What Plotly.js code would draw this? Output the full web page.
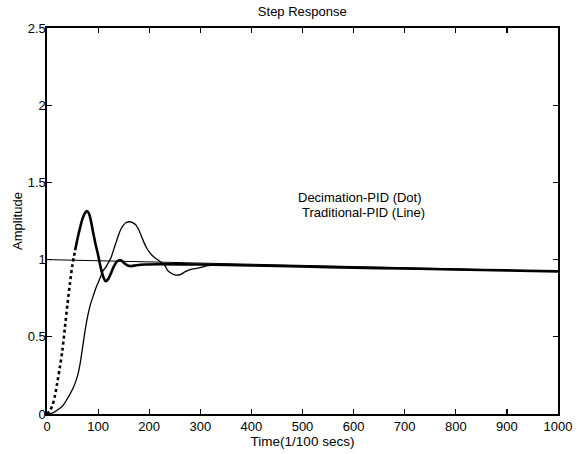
<!DOCTYPE html>
<html>
<head>
<meta charset="utf-8">
<script src="https://cdn.plot.ly/plotly-3.0.1.min.js"></script>
<style>html,body{margin:0;padding:0;background:#fff;}#chart{width:587px;height:454px;}</style>
</head>
<body>
<div id="chart"></div>
<script>
// Decimation-PID (Dot) step response
var decT = [0, 5, 10, 15, 20, 25, 30, 35, 40, 45, 50, 55, 60, 65, 70, 75, 78, 82, 86, 90, 95, 100, 105, 110, 115, 120, 125, 130, 135, 140, 145, 150, 158, 165, 175, 190, 220, 300, 400, 500, 600, 700, 800, 900, 1000];
var decY = [0, 0.02, 0.05, 0.11, 0.2, 0.3, 0.41, 0.56, 0.71, 0.85, 0.97, 1.06, 1.14, 1.21, 1.27, 1.305, 1.315, 1.3, 1.25, 1.18, 1.1, 1.03, 0.95, 0.89, 0.86, 0.875, 0.91, 0.95, 0.98, 0.995, 0.995, 0.98, 0.962, 0.958, 0.963, 0.968, 0.97, 0.968, 0.962, 0.955, 0.948, 0.942, 0.936, 0.93, 0.924];
var decDotEnd = 55; // dotted look up to this time

// Traditional-PID (Line) step response
var tradT = [0, 10, 20, 30, 40, 50, 55, 60, 65, 70, 75, 80, 85, 90, 95, 100, 105, 110, 115, 120, 125, 130, 135, 140, 145, 150, 155, 162, 170, 175, 180, 185, 190, 195, 200, 208, 220, 230, 236, 244, 252, 262, 270, 280, 295, 320, 400, 500, 600, 700, 800, 900, 1000];
var tradY = [0, 0.005, 0.025, 0.05, 0.1, 0.16, 0.2, 0.25, 0.33, 0.44, 0.55, 0.64, 0.71, 0.76, 0.81, 0.85, 0.89, 0.93, 0.95, 0.98, 1.01, 1.06, 1.11, 1.16, 1.2, 1.225, 1.24, 1.245, 1.235, 1.22, 1.19, 1.15, 1.11, 1.075, 1.05, 1.02, 0.99, 0.965, 0.93, 0.91, 0.9, 0.905, 0.92, 0.935, 0.945, 0.962, 0.962, 0.955, 0.948, 0.942, 0.936, 0.93, 0.924];

// Reference (final value) line
var refT = [0, 1000];
var refY = [1.0, 0.925];

var xTicks = [0, 100, 200, 300, 400, 500, 600, 700, 800, 900, 1000];
var yTicks = [0, 0.5, 1, 1.5, 2, 2.5];
var yTickText = ['0', '0.5', '1', '1.5', '2', '2.5'];

var labelDec = 'Decimation-PID (Dot)';
var labelTrad = 'Traditional-PID (Line)';

// split decimation series into dotted rise and solid remainder
var dotT = [], dotY = [], solT = [], solY = [];
for (var i = 0; i < decT.length; i++) {
  if (decT[i] <= decDotEnd) { dotT.push(decT[i]); dotY.push(decY[i]); }
  if (decT[i] >= decDotEnd) { solT.push(decT[i]); solY.push(decY[i]); }
}

var traces = [
  {x: refT, y: refY, mode: 'lines', line: {color: '#000', width: 1}, hoverinfo: 'skip'},
  {x: tradT, y: tradY, mode: 'lines', line: {color: '#000', width: 1.3, shape: 'spline', smoothing: 0.8}},
  {x: dotT, y: dotY, mode: 'lines', line: {color: '#000', width: 2.6, dash: 'dot', shape: 'spline', smoothing: 0.8}},
  {x: solT, y: solY, mode: 'lines', line: {color: '#000', width: 2.6, shape: 'spline', smoothing: 0.8}}
];

var fontFam = '"Liberation Sans", Arial, Helvetica, sans-serif';
var layout = {
  width: 587, height: 454,
  margin: {l: 47, r: 29, t: 28, b: 40},
  paper_bgcolor: '#fff', plot_bgcolor: '#fff',
  showlegend: false,
  font: {family: fontFam, color: '#000', size: 12},
  title: {text: 'Step Response', font: {size: 13, family: fontFam, color: '#000'}, x: 0.515, xanchor: 'center', y: 0.975, yanchor: 'middle'},
  xaxis: {
    range: [0, 1000], tickvals: xTicks, ticktext: xTicks.map(String),
    ticks: 'inside', ticklen: 5, tickwidth: 1.2, tickcolor: '#000',
    showline: true, linecolor: '#000', linewidth: 1.6, mirror: 'ticks',
    showgrid: false, zeroline: false, tickfont: {size: 13},
    title: {text: 'Time(1/100 secs)', font: {size: 13.5}, standoff: 3}
  },
  yaxis: {
    range: [0, 2.5], tickvals: yTicks, ticktext: yTickText,
    ticks: 'inside', ticklen: 5, tickwidth: 1.2, tickcolor: '#000',
    showline: true, linecolor: '#000', linewidth: 1.6, mirror: 'ticks',
    showgrid: false, zeroline: false, tickfont: {size: 13}, ticklabelstandoff: -3,
    title: {text: 'Amplitude', font: {size: 13}, standoff: 2}
  },
  annotations: [
    {x: 613, y: 1.405, xref: 'x', yref: 'y', text: labelDec, showarrow: false, font: {size: 13}, xanchor: 'center', yanchor: 'middle'},
    {x: 620, y: 1.308, xref: 'x', yref: 'y', text: labelTrad, showarrow: false, font: {size: 13}, xanchor: 'center', yanchor: 'middle'}
  ]
};

Plotly.newPlot('chart', traces, layout, {staticPlot: true, displayModeBar: false});
</script>
</body>
</html>
